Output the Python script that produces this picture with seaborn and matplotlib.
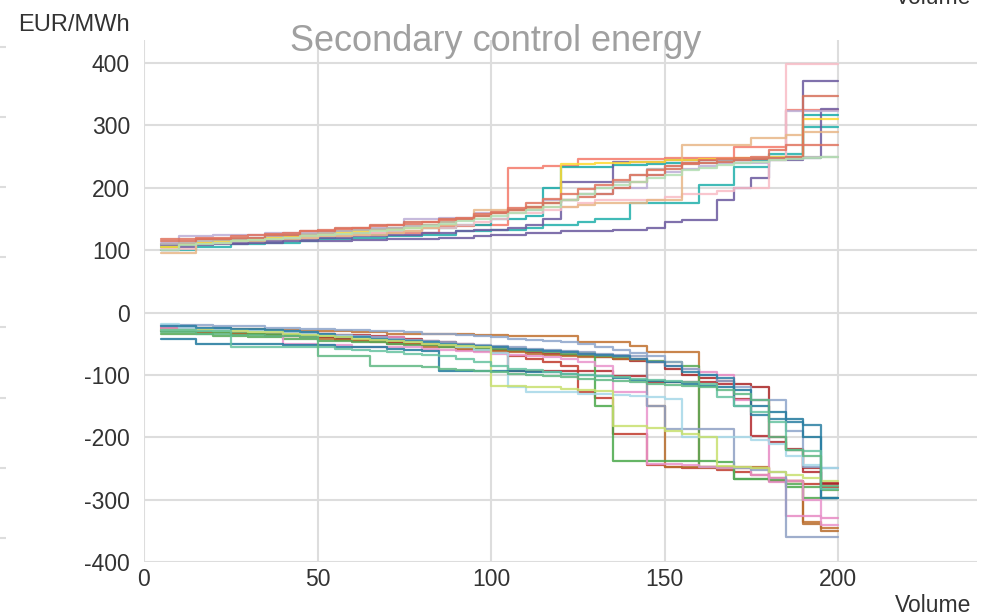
import numpy as np
import pandas as pd
import matplotlib
matplotlib.use("Agg")
import matplotlib.pyplot as plt
import seaborn as sns

# cumulative offered volume, one bid every 5 units
volume = list(range(5, 205, 5))

# upward bids (EUR/MWh)
up_salmon = [110,110,118,118,118,118,122,122,122,122,122,128,128,128,128,128,138,138,140,140,232,232,235,235,246,246,246,246,246,248,248,248,248,266,266,266,325,325,325,325]
up_teal_a = [105,108,112,112,115,115,118,118,120,120,125,125,125,130,130,135,135,140,140,150,150,155,200,234,234,234,236,236,238,240,240,245,245,245,245,250,250,316,316,316]
up_teal_b = [100,100,105,105,110,110,112,112,115,118,118,120,120,122,122,125,125,130,130,132,132,135,140,140,145,150,150,175,175,175,175,205,205,234,234,255,255,297,297,297]
up_purple_a = [100,105,108,110,110,112,112,114,115,115,115,116,116,118,118,118,120,120,122,125,125,128,128,130,130,130,132,132,136,145,149,149,181,200,215,245,245,372,372,372]
up_purple_b = [108,108,110,112,112,115,115,118,118,120,120,122,122,125,125,128,128,130,132,132,135,140,150,210,210,210,242,242,242,244,244,245,245,245,246,246,248,248,327,327]
up_lilac = [112,122,122,125,125,125,128,128,128,130,130,132,135,135,150,150,152,152,160,160,165,165,180,180,190,190,200,200,220,225,230,235,240,240,240,250,323,323,323,323]
up_pink = [102,102,112,112,115,118,118,120,120,122,125,125,128,130,130,135,135,140,145,150,160,160,165,170,175,180,180,180,180,185,190,190,195,200,200,245,398,398,398,398]
up_tan = [96,96,112,112,115,115,118,118,120,122,122,125,125,128,130,135,140,150,165,165,165,168,170,170,172,175,175,175,180,180,269,269,269,269,280,280,285,290,290,290]
up_yellow = [105,110,112,114,116,118,120,122,124,126,128,130,132,134,136,140,145,150,155,160,165,170,175,238,238,240,240,242,242,245,245,246,246,248,248,250,250,310,310,310]
up_gray = [110,112,114,116,118,120,122,124,126,128,130,132,134,136,138,140,145,150,155,160,165,170,175,180,190,200,210,220,230,235,240,240,245,245,248,248,250,250,250,250]
up_brick = [115,115,118,118,120,120,125,125,130,130,135,135,140,140,145,145,150,150,155,160,165,170,175,180,185,190,200,210,220,230,238,240,242,244,246,248,250,348,348,348]
up_green = [100,108,110,112,114,116,118,120,122,124,126,128,130,132,135,138,142,146,150,155,160,165,170,180,190,200,205,210,215,220,228,232,236,240,242,244,246,248,250,250]
up_rust = [118,118,120,120,122,124,126,128,130,132,134,136,138,140,142,145,148,152,158,162,168,175,182,190,198,205,212,220,228,235,240,244,246,248,250,260,268,268,268,268]

# downward bids (EUR/MWh)
dn_red_a = [-28,-28,-28,-30,-30,-30,-32,-32,-34,-34,-36,-36,-38,-40,-42,-45,-48,-50,-55,-60,-94,-94,-94,-94,-94,-94,-102,-102,-112,-112,-112,-112,-115,-139,-198,-208,-219,-256,-274,-274]
dn_red_b = [-25,-25,-30,-30,-35,-35,-38,-38,-40,-40,-42,-45,-45,-48,-50,-50,-55,-60,-62,-65,-70,-75,-80,-85,-128,-137,-194,-194,-245,-248,-250,-250,-252,-255,-260,-265,-270,-275,-280,-280]
dn_red_c = [-30,-30,-32,-32,-34,-34,-36,-36,-38,-40,-42,-44,-46,-48,-50,-52,-54,-56,-58,-60,-62,-64,-66,-68,-70,-72,-75,-78,-80,-90,-100,-105,-110,-115,-120,-200,-220,-250,-275,-275]
dn_brown_a = [-22,-22,-24,-24,-26,-26,-28,-28,-30,-30,-30,-32,-32,-34,-34,-34,-35,-35,-36,-36,-37,-37,-37,-37,-48,-48,-48,-54,-64,-64,-64,-248,-250,-250,-250,-270,-270,-336,-346,-346]
dn_brown_b = [-30,-30,-32,-32,-34,-34,-36,-38,-40,-42,-44,-46,-48,-50,-50,-55,-55,-58,-60,-62,-64,-66,-68,-70,-72,-72,-74,-76,-150,-247,-247,-247,-247,-247,-247,-270,-270,-339,-350,-350]
dn_green_a = [-30,-30,-30,-32,-32,-34,-34,-36,-36,-38,-40,-40,-42,-44,-46,-48,-50,-52,-55,-55,-58,-60,-62,-64,-65,-150,-238,-238,-238,-238,-238,-238,-240,-267,-267,-267,-280,-298,-298,-298]
dn_green_b = [-35,-35,-35,-38,-38,-40,-40,-42,-42,-45,-45,-48,-48,-50,-52,-52,-55,-55,-58,-58,-60,-62,-64,-66,-68,-70,-72,-75,-78,-80,-85,-247,-250,-267,-267,-270,-275,-280,-285,-285]
dn_pink_a = [-25,-25,-28,-28,-30,-30,-32,-32,-35,-35,-38,-38,-40,-40,-45,-48,-50,-52,-54,-56,-58,-60,-62,-64,-66,-68,-70,-75,-80,-85,-90,-95,-100,-140,-140,-272,-327,-327,-330,-330]
dn_pink_b = [-22,-22,-25,-28,-30,-30,-32,-50,-50,-52,-52,-55,-55,-56,-56,-58,-60,-62,-64,-66,-68,-70,-72,-75,-80,-85,-128,-128,-243,-243,-245,-248,-250,-250,-260,-265,-270,-300,-340,-340]
dn_slate_a = [-20,-20,-20,-22,-22,-22,-24,-24,-26,-26,-28,-28,-30,-30,-32,-34,-35,-36,-38,-40,-42,-44,-46,-48,-50,-55,-60,-65,-70,-80,-90,-100,-110,-119,-140,-140,-190,-248,-250,-250]
dn_slate_b = [-22,-22,-25,-25,-28,-28,-30,-30,-32,-34,-36,-38,-40,-42,-44,-46,-48,-50,-52,-54,-56,-58,-60,-62,-64,-66,-68,-70,-150,-187,-187,-187,-187,-250,-252,-255,-360,-360,-360,-360]
dn_sky = [-18,-25,-25,-28,-28,-30,-30,-32,-34,-36,-38,-40,-42,-44,-46,-48,-50,-55,-60,-65,-120,-128,-128,-128,-130,-130,-132,-134,-136,-138,-199,-199,-199,-200,-205,-210,-230,-245,-250,-250]
dn_blue_a = [-43,-43,-50,-50,-50,-50,-50,-52,-52,-52,-55,-55,-56,-58,-60,-62,-94,-94,-94,-94,-94,-96,-96,-98,-100,-102,-105,-108,-110,-112,-115,-118,-120,-125,-150,-160,-170,-200,-298,-298]
dn_blue_b = [-22,-22,-24,-24,-26,-26,-28,-30,-32,-34,-40,-40,-42,-44,-46,-48,-50,-52,-54,-56,-58,-60,-62,-64,-66,-68,-70,-75,-80,-85,-95,-100,-105,-150,-165,-170,-175,-180,-298,-298]
dn_lime = [-28,-28,-28,-30,-30,-32,-32,-34,-36,-38,-40,-42,-44,-46,-48,-50,-52,-54,-56,-118,-118,-120,-120,-122,-124,-126,-182,-182,-185,-190,-195,-200,-246,-248,-250,-255,-260,-265,-270,-270]
dn_mint_a = [-28,-28,-30,-30,-55,-55,-55,-55,-56,-56,-58,-60,-62,-64,-66,-68,-70,-75,-80,-85,-90,-92,-95,-98,-100,-102,-104,-106,-108,-110,-112,-115,-135,-150,-160,-175,-220,-222,-283,-283]
dn_mint_b = [-32,-32,-34,-34,-36,-36,-38,-38,-40,-70,-70,-70,-85,-85,-85,-88,-90,-92,-94,-96,-98,-100,-102,-104,-106,-108,-110,-112,-114,-116,-118,-120,-125,-130,-140,-200,-220,-230,-278,-278]

series = {
    "up_salmon": (up_salmon, "#f4796a"), "up_teal_a": (up_teal_a, "#17aaa8"),
    "up_teal_b": (up_teal_b, "#1fb0ab"), "up_purple_a": (up_purple_a, "#6a589e"),
    "up_purple_b": (up_purple_b, "#6b5aa0"), "up_lilac": (up_lilac, "#bcaed6"),
    "up_pink": (up_pink, "#f8bcc6"), "up_tan": (up_tan, "#e8b787"),
    "up_yellow": (up_yellow, "#ffd92f"), "up_gray": (up_gray, "#b3b3b3"),
    "up_brick": (up_brick, "#d6705a"), "up_green": (up_green, "#b3dfb3"),
    "up_rust": (up_rust, "#e0735e"),
    "dn_red_a": (dn_red_a, "#b2282d"), "dn_red_b": (dn_red_b, "#c0392b"),
    "dn_red_c": (dn_red_c, "#a82424"), "dn_brown_a": (dn_brown_a, "#c0702e"),
    "dn_brown_b": (dn_brown_b, "#b86c2c"), "dn_green_a": (dn_green_a, "#4aa84a"),
    "dn_green_b": (dn_green_b, "#55a855"), "dn_pink_a": (dn_pink_a, "#e78ac3"),
    "dn_pink_b": (dn_pink_b, "#e993cc"), "dn_slate_a": (dn_slate_a, "#8da5cb"),
    "dn_slate_b": (dn_slate_b, "#8ea0c4"), "dn_sky": (dn_sky, "#a6d8e8"),
    "dn_blue_a": (dn_blue_a, "#1f789c"), "dn_blue_b": (dn_blue_b, "#2a7fa3"),
    "dn_lime": (dn_lime, "#c8e06e"), "dn_mint_a": (dn_mint_a, "#66c2a0"),
    "dn_mint_b": (dn_mint_b, "#5fb883"),
}

rows = []
for name, (prices, _) in series.items():
    for v, p in zip(volume, prices):
        rows.append({"bid": name, "volume": v, "price": p})
df = pd.DataFrame(rows)
palette = {name: c for name, (_, c) in series.items()}

sns.set_theme(style="whitegrid")
plt.rcParams["font.family"] = ["Liberation Sans", "DejaVu Sans"]
plt.rcParams["axes.unicode_minus"] = False

fig = plt.figure(figsize=(9.85, 6.16), dpi=100)

# neighbouring panel peeking in at the left edge
side = fig.add_axes([-0.3, 0.0, 0.3 + 6 / 985, 1.0])
side.set_ylim(616, 0)
side.set_yticks(np.arange(47, 560, 70.1))
side.set_xticks([])
side.tick_params(left=False, labelleft=False)
side.grid(True, axis="y", color="#dddddd", lw=1.5)
for s in side.spines.values():
    s.set_visible(False)

ax = fig.add_axes([144 / 985, 1 - 562 / 616, (977 - 144) / 985, (562 - 40) / 616])
sns.lineplot(data=df, x="volume", y="price", hue="bid", palette=palette,
             estimator=None, drawstyle="steps-post", lw=1.6, alpha=0.85,
             legend=False, ax=ax)

ax.set_xlim(0, 240)
ax.set_ylim(-400, 437)
ax.set_xticks([0, 50, 100, 150, 200])
ax.set_yticks(range(-400, 401, 100))
ax.set_xlabel("")
ax.set_ylabel("")
ax.grid(True, color="#dddddd", lw=1.5)
ax.set_axisbelow(True)
for s in ax.spines.values():
    s.set_visible(False)
ax.tick_params(axis="both", length=0, labelsize=16.5, labelcolor="#333333")
ax.tick_params(axis="x", pad=4)
ax.tick_params(axis="y", pad=10)

fig.text(18 / 985, 1 - 25 / 616, "EUR/MWh", fontsize=17, color="#333333",
         ha="left", va="center")
fig.text(496 / 985, 1 - 51 / 616, "Secondary control energy", fontsize=26,
         color="#a0a0a0", ha="center", va="baseline")
fig.text(971 / 985, 1 - 606 / 616, "Volume", fontsize=16.5, color="#333333",
         ha="right", va="center")
# x label of the panel above, cut by the top edge
fig.text(971 / 985, 1 - 4 / 616, "Volume", fontsize=16.5, color="#333333",
         ha="right", va="baseline")

fig.savefig("out.png", dpi=100)
